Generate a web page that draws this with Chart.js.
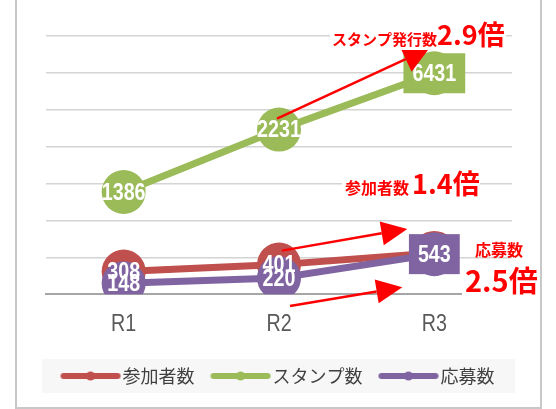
<!DOCTYPE html>
<html>
<head>
<meta charset="utf-8">
<script src="https://cdn.jsdelivr.net/npm/chart.js@4/dist/chart.umd.min.js"></script>
<style>
  html, body { margin: 0; padding: 0; background: #fff; }
  canvas { display: block; }
</style>
</head>
<body>
<canvas id="myChart" width="556" height="409"></canvas>
<script>
// data
const rounds = ["R1", "R2", "R3"];
const seriesNames = ["参加者数", "スタンプ数", "応募数"];
// R3 participants sit behind the 543 box
const participants = [308, 401, 560];
// the R3 stamp point is drawn near 3000 in the picture, its label reads 6431
const stamps = [1386, 2231, 2995];
const applicants = [148, 220, 543];
const participantLabels = ["308", "401", ""];
const stampLabels = ["1386", "2231", "6431"];
const applicantLabels = ["148", "220", "543"];
// callout texts
const noteSmall = ["スタンプ発行数", "参加者数", "応募数"];
const noteBig = ["2.9倍", "1.4倍", "2.5倍"];

const RED = "#C0504D";
const GREEN = "#9BBB59";
const PURPLE = "#8064A2";
const SANS = '"Liberation Sans", Arial, sans-serif';
const JP = '"Noto Sans CJK JP", "Noto Sans", sans-serif';
const SQUEEZE = 0.82; // narrow look of the original numbers

// legend icon: line with a dot in the middle
function legendIcon(color) {
  const c = document.createElement("canvas");
  c.width = 62;
  c.height = 12;
  const g = c.getContext("2d");
  g.strokeStyle = color;
  g.lineWidth = 6;
  g.lineCap = "round";
  g.beginPath();
  g.moveTo(4, 6);
  g.lineTo(58, 6);
  g.stroke();
  g.fillStyle = color;
  g.beginPath();
  g.arc(31, 6, 4.5, 0, Math.PI * 2);
  g.fill();
  return c;
}

function narrowText(ctx, txt, x, y) {
  ctx.save();
  ctx.translate(x, y);
  ctx.scale(SQUEEZE, 1);
  ctx.fillText(txt, 0, 0);
  ctx.restore();
}

// frame + legend background
const framePlugin = {
  id: "frame",
  beforeDraw(chart) {
    const { ctx, legend } = chart;
    ctx.save();
    if (legend && legend.legendHitBoxes.length) {
      const hb = legend.legendHitBoxes[0];
      const cy = hb.top + hb.height / 2;
      ctx.fillStyle = "#F7F7F7";
      ctx.fillRect(42, cy - 17, 473, 34);
    }
    ctx.strokeStyle = "#C8C8C8";
    ctx.lineWidth = 2;
    ctx.beginPath();
    ctx.moveTo(16, 0);
    ctx.lineTo(16, 408);
    ctx.lineTo(541, 408);
    ctx.lineTo(541, 0);
    ctx.stroke();
    ctx.restore();
  },
};

// category labels under the axis, drawn narrow
const roundLabels = {
  id: "roundLabels",
  afterDraw(chart) {
    const { ctx } = chart;
    const x = chart.scales.x;
    ctx.save();
    ctx.font = "24px " + SANS;
    ctx.fillStyle = "#595959";
    ctx.textAlign = "center";
    ctx.textBaseline = "middle";
    x.ticks.forEach((t, i) => {
      narrowText(ctx, rounds[i], x.getPixelForTick(i), x.top + 30);
    });
    ctx.restore();
  },
};

// white value labels, the last one of some series sits in a filled box
const valueLabels = {
  id: "valueLabels",
  afterDatasetsDraw(chart) {
    const { ctx } = chart;
    ctx.save();
    ctx.font = "bold 24px " + SANS;
    ctx.textAlign = "center";
    ctx.textBaseline = "middle";
    chart.data.datasets.forEach((ds, di) => {
      const meta = chart.getDatasetMeta(di);
      meta.data.forEach((pt, i) => {
        const txt = ds.valueText[i];
        if (!txt) return;
        if (ds.boxLast && i === meta.data.length - 1) {
          const w = ctx.measureText(txt).width * SQUEEZE + 18;
          ctx.fillStyle = ds.borderColor;
          ctx.fillRect(pt.x - w / 2, pt.y - 20, w, 40);
        }
        ctx.fillStyle = "#fff";
        narrowText(ctx, txt, pt.x, pt.y + 1);
      });
    });
    ctx.restore();
  },
};

// red arrows, anchored to points: [dataset, index, dx, dy]
const arrows = [
  { from: [1, 1, -2, -11], to: [1, 2, -5, -25], half: 14 },
  { from: [0, 1, 3, -14], to: [0, 2, -27, -24], half: 12 },
  { from: [2, 1, 11, 28], to: [2, 2, -32, 33], half: 12 },
];
// callouts: small text, big text, white box behind
const notes = [
  { sx: 332, sy: 39, bx: 437, by: 35, small: 15, big: 27, box: [330, 18, 176, 32] },
  { sx: 345, sy: 188, bx: 412, by: 184, small: 16, big: 27, box: [342, 168, 138, 30] },
  { sx: 475, sy: 250, bx: 465, by: 281, small: 16, big: 29, box: [462, 264, 74, 36] },
];

const callouts = {
  id: "callouts",
  afterDatasetsDraw(chart) {
    const { ctx } = chart;
    const at = (a) => {
      const p = chart.getDatasetMeta(a[0]).data[a[1]];
      return [p.x + a[2], p.y + a[3]];
    };
    ctx.save();
    ctx.strokeStyle = "#FF0000";
    ctx.fillStyle = "#FF0000";
    arrows.forEach((ar) => {
      const [x0, y0] = at(ar.from);
      const [x1, y1] = at(ar.to);
      const len = Math.hypot(x1 - x0, y1 - y0);
      const ux = (x1 - x0) / len, uy = (y1 - y0) / len;
      const bx = x1 - ux * 26, by = y1 - uy * 26;
      ctx.lineWidth = 2.5;
      ctx.beginPath();
      ctx.moveTo(x0, y0);
      ctx.lineTo(bx, by);
      ctx.stroke();
      ctx.beginPath();
      ctx.moveTo(x1, y1);
      ctx.lineTo(bx - uy * ar.half, by + ux * ar.half);
      ctx.lineTo(bx + uy * ar.half, by - ux * ar.half);
      ctx.closePath();
      ctx.fill();
    });
    ctx.textAlign = "left";
    ctx.textBaseline = "middle";
    notes.forEach((n, i) => {
      ctx.fillStyle = "#fff";
      ctx.fillRect(n.box[0], n.box[1], n.box[2], n.box[3]);
      ctx.fillStyle = "#FF0000";
      ctx.font = "bold " + n.small + "px " + JP;
      ctx.fillText(noteSmall[i], n.sx, n.sy);
      ctx.font = "bold " + n.big + "px " + JP;
      ctx.fillText(noteBig[i], n.bx, n.by);
    });
    ctx.restore();
  },
};

const data = {
  labels: rounds,
  datasets: [
    {
      label: seriesNames[0],
      data: participants,
      valueText: participantLabels,
      borderColor: RED,
      backgroundColor: RED,
      order: 1,
    },
    {
      label: seriesNames[1],
      data: stamps,
      valueText: stampLabels,
      boxLast: true,
      borderColor: GREEN,
      backgroundColor: GREEN,
      order: 2,
    },
    {
      label: seriesNames[2],
      data: applicants,
      valueText: applicantLabels,
      boxLast: true,
      borderColor: PURPLE,
      backgroundColor: PURPLE,
      order: 0,
    },
  ],
};

const config = {
  type: "line",
  data: data,
  options: {
    responsive: false,
    animation: false,
    layout: { padding: { left: 6, right: 0, top: 36, bottom: 14 } },
    elements: {
      line: { borderWidth: 7, tension: 0 },
      point: { radius: 22, hoverRadius: 22, borderWidth: 0 },
    },
    plugins: {
      tooltip: { enabled: false },
      legend: {
        position: "bottom",
        labels: {
          usePointStyle: true,
          pointStyleWidth: 46,
          padding: 23,
          color: "#404040",
          font: { family: JP, size: 18 },
          generateLabels: (chart) =>
            chart.data.datasets.map((ds, i) => ({
              text: ds.label,
              pointStyle: legendIcon(ds.borderColor),
              fillStyle: ds.borderColor,
              strokeStyle: ds.borderColor,
              lineWidth: 0,
              hidden: false,
              datasetIndex: i,
              fontColor: "#404040",
            })),
        },
      },
    },
    scales: {
      x: {
        offset: true,
        grid: { display: false, drawTicks: false },
        border: { color: "#A6A6A6", width: 2 },
        ticks: { color: "rgba(0,0,0,0)", padding: 10.5, font: { family: SANS, size: 24 } },
      },
      y: {
        min: 0,
        max: 3500,
        grid: { color: "#D4D4D4", lineWidth: 1.5, drawTicks: false },
        border: { display: false },
        ticks: { display: false, stepSize: 500 },
        afterFit: (s) => { s.width = 40; },
      },
      yRight: {
        type: "linear",
        position: "right",
        grid: { display: false, drawTicks: false },
        border: { display: false },
        ticks: { display: false },
        afterFit: (s) => { s.width = 44; },
      },
    },
  },
  plugins: [framePlugin, roundLabels, valueLabels, callouts],
};

const myChart = new Chart(document.getElementById("myChart"), config);
</script>
</body>
</html>
